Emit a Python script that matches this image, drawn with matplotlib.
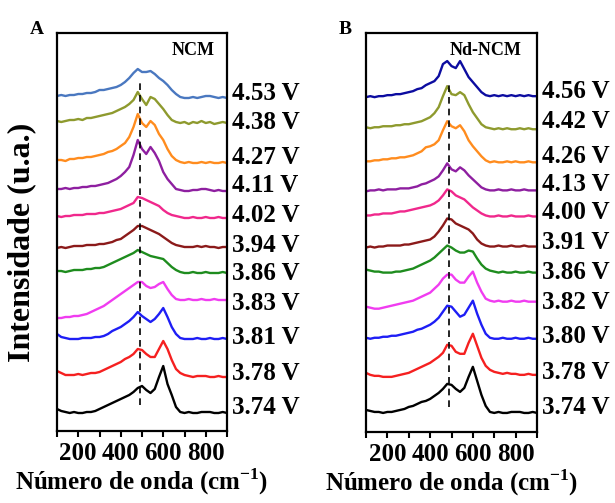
import matplotlib

matplotlib.use("Agg")
import matplotlib.pyplot as plt
import matplotlib.transforms as mtransforms
import numpy as np

plt.rcParams["font.family"] = ["Liberation Serif", "DejaVu Serif"]
plt.rcParams["font.weight"] = "bold"
plt.rcParams["axes.labelweight"] = "bold"
plt.rcParams["mathtext.fontset"] = "custom"
plt.rcParams["mathtext.rm"] = "Liberation Serif:bold"
plt.rcParams["mathtext.bf"] = "Liberation Serif:bold"

# Raman shift grid (cm-1) shared by all spectra
shift = np.arange(100, 901, 20)

# ---- panel A: NCM (intensity above each trace's right-hand baseline, a.u.)
ncm_labels = ["4.53 V", "4.38 V", "4.27 V", "4.11 V", "4.02 V", "3.94 V",
              "3.86 V", "3.83 V", "3.81 V", "3.78 V", "3.74 V"]
ncm_offsets = [333, 308, 268, 240, 213, 184, 158, 131, 92, 54, 18]
ncm_label_y = [338, 309, 274, 246, 216, 186, 158, 128, 94, 58, 23]

ncm_453 = [2, 3, 2, 3, 3, 4, 4, 5, 5, 6, 8, 8, 9, 10, 11, 13, 16, 20, 25, 29, 26,
           26, 27, 24, 20, 17, 13, 8, 4, 1, 0, 0, 1, 0, 1, 2, 2, 1, 0, 1, 0]
ncm_438 = [2, 1, 2, 3, 3, 4, 3, 5, 5, 6, 7, 8, 9, 10, 12, 14, 16, 19, 23, 31, 24,
           18, 26, 24, 19, 14, 8, 3, 1, 0, 1, -1, 1, 0, 2, 0, 1, -1, 0, 1, 0]
ncm_427 = [3, 3, 2, 4, 4, 5, 5, 6, 6, 7, 8, 9, 11, 12, 14, 17, 20, 26, 36, 49, 40,
           36, 42, 38, 29, 23, 14, 7, 3, 1, 0, 1, 0, 0, 1, 0, 1, 0, 0, 1, 0]
ncm_411 = [2, 2, 3, 2, 3, 3, 4, 4, 5, 5, 6, 7, 8, 10, 12, 15, 19, 24, 36, 51, 42,
           37, 44, 38, 30, 19, 12, 7, 2, 1, 0, 0, 1, 1, 2, 2, 1, 0, 1, 0, 0]
ncm_402 = [2, 1, 2, 2, 3, 3, 3, 4, 4, 4, 5, 5, 6, 7, 8, 9, 11, 13, 15, 21, 20,
           18, 16, 14, 12, 8, 5, 3, 2, 1, 0, 0, 1, 0, 0, 1, 0, 0, 1, 0, 0]
ncm_394 = [-1, 0, -1, 0, 1, 1, 1, 2, 2, 2, 3, 3, 4, 5, 7, 8, 11, 14, 17, 21, 21,
           19, 17, 15, 13, 10, 7, 4, 2, 1, 0, 0, 0, 1, 0, 1, 0, 0, -1, 0, 0]
ncm_386 = [2, 2, 1, 2, 3, 3, 3, 4, 4, 5, 5, 6, 8, 10, 12, 14, 16, 18, 20, 23, 21,
           19, 17, 16, 15, 14, 10, 6, 3, 1, 0, 0, 1, 0, 0, 1, 0, 0, 0, 1, 0]
ncm_383 = [-18, -18, -17, -17, -16, -16, -15, -14, -12, -10, -8, -6, -3, 0, 3, 6,
           9, 12, 15, 18, 18, 14, 12, 13, 16, 18, 11, 5, 1, 0, 0, 1, 0, 0, 1, 0,
           0, 1, 0, 0, 0]
ncm_381 = [5, 2, 1, 0, 0, 0, 1, 1, 1, 2, 2, 3, 5, 8, 10, 12, 15, 18, 22, 27, 23,
           20, 17, 20, 25, 31, 22, 12, 5, 1, 0, 0, 0, 1, 0, 0, 1, 0, 0, 1, 0]
ncm_378 = [6, 4, 2, 2, 2, 3, 2, 3, 4, 4, 5, 7, 9, 11, 13, 15, 18, 20, 23, 28, 27,
           23, 20, 20, 28, 36, 28, 17, 8, 4, 2, 1, 0, 1, 1, 1, 0, 0, 1, 0, 0]
ncm_374 = [4, 2, 1, 0, 1, 0, 0, 1, 1, 2, 4, 6, 8, 10, 12, 14, 16, 18, 21, 25, 27,
           23, 20, 24, 36, 47, 29, 18, 6, 1, 0, 1, 0, 0, 1, 1, 1, 0, 0, 1, 0]

# ---- panel B: Nd-NCM
nd_labels = ["4.56 V", "4.42 V", "4.26 V", "4.13 V", "4.00 V", "3.91 V",
             "3.86 V", "3.82 V", "3.80 V", "3.78 V", "3.74 V"]
nd_offsets = [335, 302, 269, 241, 215, 185, 159, 130, 93, 57, 19]
nd_label_y = [340, 310, 275, 247, 219, 189, 159, 129, 95, 59, 24]

nd_456 = [-1, 0, -1, 0, 0, 1, 1, 2, 2, 3, 4, 5, 7, 8, 11, 13, 15, 20, 32, 35, 30,
          28, 35, 27, 19, 14, 9, 4, 1, 0, 1, 0, 1, 0, 1, 0, 1, 0, 1, 0, 0]
nd_442 = [2, 1, 2, 2, 3, 3, 3, 4, 4, 5, 5, 6, 7, 8, 10, 12, 16, 22, 33, 43, 35,
          34, 37, 34, 25, 17, 11, 5, 2, 1, 0, 1, 0, 1, 0, 0, 1, 0, 1, 0, 0]
nd_426 = [1, 1, 2, 2, 3, 3, 4, 4, 5, 5, 6, 7, 9, 11, 15, 16, 18, 22, 32, 41, 36,
          34, 37, 31, 22, 16, 11, 6, 2, 0, 1, 0, 0, 1, 0, 1, 0, 0, 1, 0, 0]
nd_413 = [-1, 0, 0, 1, 0, 1, 1, 1, 2, 2, 2, 3, 4, 6, 7, 9, 11, 14, 20, 27, 21,
          19, 23, 20, 15, 11, 7, 3, 1, 0, 0, 1, 0, 0, 1, 0, 0, 1, 0, 0, 0]
nd_400 = [1, 1, 2, 2, 3, 3, 3, 4, 5, 5, 6, 7, 8, 9, 10, 11, 13, 16, 21, 27, 25,
          21, 19, 17, 13, 9, 6, 3, 1, 0, 0, 1, 0, 0, 1, 0, 0, 0, 1, 0, 0]
nd_391 = [-1, 0, -1, 0, 0, 1, 1, 1, 1, 2, 2, 3, 4, 5, 6, 7, 10, 15, 21, 28, 27,
          23, 21, 19, 17, 13, 7, 3, 1, 0, 0, 1, 0, 0, 1, 0, 0, 1, 0, 0, 0]
nd_386 = [3, 2, 1, 1, 0, 0, 0, 1, 1, 2, 3, 4, 6, 8, 10, 12, 15, 19, 23, 27, 25,
          22, 20, 20, 22, 21, 14, 8, 4, 2, 1, 0, 1, 0, 0, 1, 0, 0, 1, 0, 0]
nd_382 = [-5, -6, -7, -7, -6, -5, -4, -3, -2, -1, 0, 1, 3, 5, 7, 9, 13, 17, 23,
          27, 27, 22, 19, 19, 25, 30, 19, 10, 3, 1, 0, 1, 0, 0, 1, 0, 0, 1, 0,
          0, 0]
nd_380 = [1, 0, 1, 1, 2, 2, 3, 3, 4, 5, 6, 7, 9, 10, 12, 14, 17, 21, 27, 33, 32,
          27, 22, 24, 31, 38, 25, 14, 5, 1, 0, 0, 1, 0, 0, 1, 0, 0, 1, 0, 0]
nd_378 = [2, 0, -1, -1, -2, -2, -2, -1, 0, 1, 2, 4, 6, 8, 10, 12, 15, 18, 22, 30,
          29, 23, 21, 21, 32, 41, 29, 17, 9, 5, 3, 2, 1, 2, 1, 1, 0, 0, 1, 0, 0]
nd_374 = [3, 2, 1, 1, 0, 1, 1, 2, 3, 4, 6, 7, 9, 11, 12, 14, 17, 20, 24, 29, 28,
          24, 21, 25, 36, 46, 32, 18, 7, 1, 0, 1, 0, 0, 1, 1, 1, 0, 0, 1, 0]

ncm_spectra = [ncm_453, ncm_438, ncm_427, ncm_411, ncm_402, ncm_394,
               ncm_386, ncm_383, ncm_381, ncm_378, ncm_374]
nd_spectra = [nd_456, nd_442, nd_426, nd_413, nd_400, nd_391,
              nd_386, nd_382, nd_380, nd_378, nd_374]

trace_colors = ["#4a78c0", "#8e9a2e", "#ff8c1e", "#8e1fa0", "#f0288c", "#8b1a1a",
                "#1e8c1e", "#f03cf0", "#1e1ef5", "#f52020", "#000000"]
nd_colors = ["#0c0ca0"] + trace_colors[1:]

DASH_X = 490


def draw_panel(ax, spectra, offsets, labels, label_y, colors, title, title_x,
               letter, dash_span):
    for y, off, c in zip(spectra, offsets, colors):
        ax.plot(shift, np.asarray(y) + off, color=c, lw=1.7,
                solid_joinstyle="round")
    ax.plot([DASH_X, DASH_X], dash_span, color="black", lw=1.2,
            ls=(0, (4, 3)))
    ax.set_xlim(100, 900)
    ax.set_ylim(0, 398)
    ax.set_yticks([])
    ax.set_xticks([200, 400, 600, 800])
    ax.set_xticks([100, 300, 500, 700, 900], minor=True)
    ax.tick_params(axis="x", which="both", direction="out", length=4,
                   width=1.5, labelsize=18, pad=4)
    for s in ax.spines.values():
        s.set_linewidth(1.6)
    ax.set_xlabel("Número de onda (cm$^{\\mathbf{-1}}$)", fontsize=18,
                  fontweight="bold", labelpad=1)
    trans = mtransforms.blended_transform_factory(ax.transAxes, ax.transData)
    for lab, ly in zip(labels, label_y):
        ax.text(1.03, ly, lab, transform=trans, ha="left", va="center",
                fontsize=18, clip_on=False)
    ax.text(title_x, 0.955, title, transform=ax.transAxes, ha="center",
            va="center", fontsize=13)
    ax.text(-0.12, 1.01, letter, transform=ax.transAxes, ha="center",
            va="center", fontsize=14)


fig = plt.figure(figsize=(6.15, 5.03), dpi=100)
ax_a = fig.add_axes([57 / 615, 72 / 503, 170 / 615, 398 / 503])
ax_b = fig.add_axes([366 / 615, 71 / 503, 171 / 615, 399 / 503])

draw_panel(ax_a, ncm_spectra, ncm_offsets, ncm_labels, ncm_label_y,
           trace_colors, "NCM", 0.80, "A", [26, 348])
draw_panel(ax_b, nd_spectra, nd_offsets, nd_labels, nd_label_y,
           nd_colors, "Nd-NCM", 0.70, "B", [25, 350])

fig.text(22 / 615, 1 - 242 / 503, "Intensidade (u.a.)", rotation=90,
         ha="center", va="center", fontsize=23)

fig.savefig("out.png", dpi=100)
